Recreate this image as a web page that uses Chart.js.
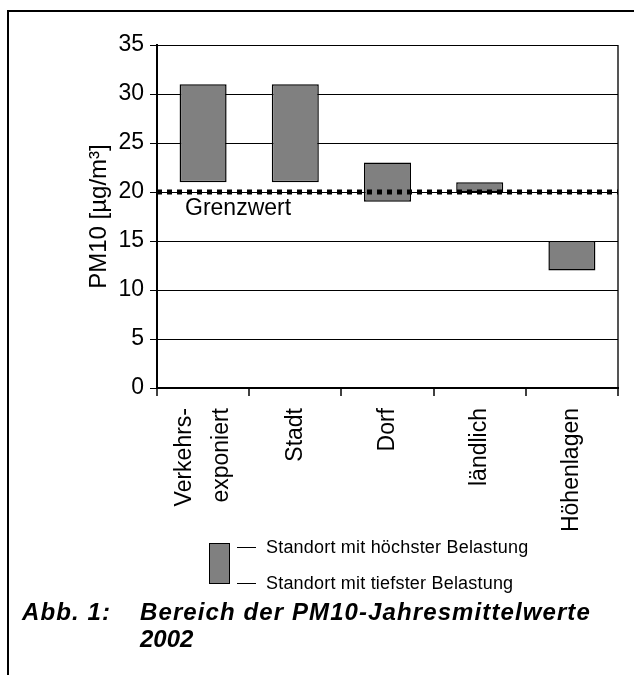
<!DOCTYPE html>
<html>
<head>
<meta charset="utf-8">
<script src="https://cdn.jsdelivr.net/npm/chart.js@4.4.0/dist/chart.umd.min.js"></script>
<style>
  body { margin: 0; background: #fff; font-family: "Liberation Sans", Arial, sans-serif; color: #000; }
  #wrap { position: relative; width: 634px; height: 675px; overflow: hidden; }
  #frame { position: absolute; left: 7px; top: 10px; right: 0; bottom: 0; border-left: 2px solid #000; border-top: 2px solid #000; }
  #chart { position: absolute; left: 0; top: 0; }
  .leg-box { position: absolute; left: 209px; top: 543px; width: 19px; height: 39px; background: #808080; border: 1px solid #000; }
  .leg-line { position: absolute; left: 237px; width: 19px; border-top: 1px solid #000; }
  .leg-text { position: absolute; left: 266px; font-size: 18px; line-height: 20px; white-space: nowrap; letter-spacing: 0.2px; }
  .cap { position: absolute; font: italic bold 24px "Liberation Sans", Arial, sans-serif; line-height: 27px; white-space: nowrap; letter-spacing: 1.1px; }
</style>
</head>
<body>
<div id="wrap">
  <div id="frame"></div>
  <canvas id="chart" width="634" height="675"></canvas>

  <div class="leg-box"></div>
  <div class="leg-line" style="top:547px"></div>
  <div class="leg-text" style="top:537px">Standort mit höchster Belastung</div>
  <div class="leg-line" style="top:583px"></div>
  <div class="leg-text" style="top:573px">Standort mit tiefster Belastung</div>

  <div class="cap" style="left:22px; top:598px">Abb. 1:</div>
  <div class="cap" style="left:140px; top:598px">Bereich der PM10-Jahresmittelwerte</div>
  <div class="cap" style="left:140px; top:625px; letter-spacing:0">2002</div>
</div>

<script>
const categories = [['Verkehrs-', 'exponiert'], 'Stadt', 'Dorf', 'ländlich', 'Höhenlagen'];
const lowestValues = [21, 21, 19, 20, 12];   // Standort mit tiefster Belastung
const highestValues = [31, 31, 23, 21, 15];  // Standort mit höchster Belastung
const limitValue = 20;                        // Grenzwert
const yMin = 0;
const yMax = 35;
const yStep = 5;
// where the category labels sit on the x scale (two-line label pulled left so it is centred)
const labelPositions = [0.3, 1.5, 2.5, 3.5, 4.5];

const fontName = '"Liberation Sans", Arial, sans-serif';
const nCat = categories.length;

// label under the dotted limit line
const limitLabel = {
  id: 'limitLabel',
  afterDatasetsDraw(chart) {
    const ctx = chart.ctx;
    const y = chart.scales.y.getPixelForValue(limitValue);
    ctx.save();
    ctx.font = '23px ' + fontName;
    ctx.fillStyle = '#000';
    ctx.textBaseline = 'top';
    ctx.fillText('Grenzwert', chart.chartArea.left + 28, y + 5);
    ctx.restore();
  }
};

const ctx = document.getElementById('chart').getContext('2d');

const chart = new Chart(ctx, {
  type: 'bar',
  data: {
    datasets: [
      {
        type: 'line',
        label: 'Grenzwert',
        data: [{ x: 0, y: limitValue }, { x: nCat, y: limitValue }],
        borderColor: '#000',
        borderWidth: 5,
        borderDash: [5, 5],
        pointRadius: 0,
        order: 1
      },
      {
        label: 'Bereich',
        data: categories.map((c, i) => ({ x: i + 0.5, y: [lowestValues[i], highestValues[i]] })),
        backgroundColor: '#808080',
        borderColor: '#000',
        borderWidth: 1.5,
        borderSkipped: false,
        grouped: false,
        barPercentage: 0.51,
        categoryPercentage: 1,
        order: 2
      }
    ]
  },
  options: {
    responsive: false,
    animation: false,
    layout: {
      padding: { left: 85, top: 45, right: 16, bottom: 0 }
    },
    plugins: {
      legend: { display: false },
      tooltip: { enabled: false }
    },
    scales: {
      x: {
        type: 'linear',
        position: 'bottom',
        weight: 0,
        min: 0,
        max: nCat,
        offset: false,
        afterBuildTicks: s => {
          s.ticks = Array.from({ length: nCat + 1 }, (v, i) => ({ value: i }));
        },
        grid: {
          offset: false,
          color: c => c.index === nCat ? '#555' : 'rgba(0,0,0,0)',
          lineWidth: 2,
          tickColor: '#000',
          tickLength: 8,
          tickWidth: 1.5
        },
        border: { color: '#000', width: 2 },
        ticks: { callback: () => '', padding: 0 },
        afterFit: s => { s.height = 8; }
      },
      xLabels: {
        type: 'linear',
        position: 'bottom',
        weight: 1,
        min: 0,
        max: nCat,
        offset: false,
        afterBuildTicks: s => {
          s.ticks = labelPositions.map(v => ({ value: v }));
        },
        grid: { display: false, drawTicks: false, offset: false },
        border: { display: false },
        ticks: {
          callback: (v, i) => categories[i],
          minRotation: 90,
          maxRotation: 90,
          autoSkip: false,
          color: '#000',
          padding: 12,
          font: { family: fontName, size: 23, lineHeight: 1.6 }
        },
        afterFit: s => { s.height = 279; }
      },
      y: {
        min: yMin,
        max: yMax,
        ticks: {
          stepSize: yStep,
          color: '#000',
          padding: 6,
          font: { family: fontName, size: 23 }
        },
        grid: {
          color: '#000',
          lineWidth: 1,
          tickColor: '#000',
          tickLength: 7
        },
        border: { color: '#000', width: 2 },
        title: {
          display: true,
          text: 'PM10 [µg/m³]',
          color: '#000',
          padding: 0,
          font: { family: fontName, size: 24 }
        },
        afterFit: s => { s.width = 72; }
      }
    }
  },
  plugins: [limitLabel]
});
</script>
</body>
</html>
